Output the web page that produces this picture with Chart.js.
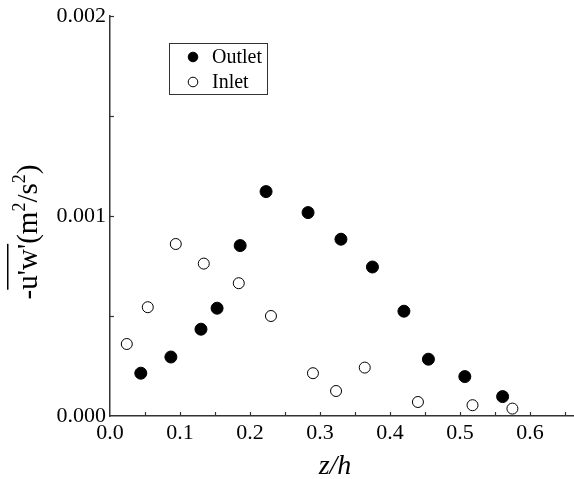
<!DOCTYPE html>
<html>
<head>
<meta charset="utf-8">
<script src="https://cdn.jsdelivr.net/npm/chart.js@4.4.1/dist/chart.umd.min.js"></script>
<style>
  body { margin: 0; background: #fff; }
  #wrap { width: 574px; height: 479px; position: relative; }
</style>
</head>
<body>
<div id="wrap"><canvas id="chart"></canvas></div>
<script>
// z/h and -u'w' values
var outletZ = [0.044, 0.087, 0.130, 0.153, 0.186, 0.223, 0.283, 0.330, 0.375, 0.420, 0.455, 0.507, 0.561];
var outletUW = [0.000214, 0.000295, 0.000434, 0.000539, 0.000852, 0.001122, 0.001017, 0.000884, 0.000745, 0.000524, 0.000284, 0.000197, 0.000097];
var inletZ = [0.024, 0.054, 0.094, 0.134, 0.184, 0.230, 0.290, 0.323, 0.364, 0.440, 0.518, 0.575];
var inletUW = [0.000360, 0.000544, 0.000860, 0.000762, 0.000664, 0.000500, 0.000214, 0.000125, 0.000242, 0.000070, 0.000054, 0.000037];
var xTickLabels = ["0.0", "0.1", "0.2", "0.3", "0.4", "0.5", "0.6"];
var yTickLabels = ["0.000", "0.001", "0.002"];

var FONT = "Liberation Serif";

function toPoints(xs, ys) {
    var pts = [];
    for (var i = 0; i < xs.length; i++) {
        pts.push({ x: xs[i], y: ys[i] });
    }
    return pts;
}

// inward tick marks on the left and bottom axes
var inwardTicks = {
    id: 'inwardTicks',
    afterDraw: function (chart) {
        var ctx = chart.ctx;
        var xs = chart.scales.x, ys = chart.scales.y;
        ctx.save();
        ctx.strokeStyle = '#333';
        ctx.lineWidth = 1.2;
        xs.ticks.forEach(function (t) {
            var px = Math.round(xs.getPixelForValue(t.value)) + 0.5;
            if (px <= xs.left + 1) return;
            ctx.beginPath();
            ctx.moveTo(px, ys.bottom);
            ctx.lineTo(px, ys.bottom - 4);
            ctx.stroke();
        });
        ys.ticks.forEach(function (t) {
            var py = Math.round(ys.getPixelForValue(t.value)) + 0.5;
            if (py >= ys.bottom - 1) return;
            ctx.beginPath();
            ctx.moveTo(xs.left, py);
            ctx.lineTo(xs.left + 4, py);
            ctx.stroke();
        });
        ctx.restore();
    }
};

// axis titles and the boxed legend
var decorations = {
    id: 'decorations',
    afterDraw: function (chart) {
        var ctx = chart.ctx;
        ctx.save();
        ctx.fillStyle = '#000';

        // x title
        ctx.font = 'italic 28px "' + FONT + '"';
        ctx.textAlign = 'center';
        ctx.textBaseline = 'alphabetic';
        ctx.fillText('z/h', 335, 474);

        // y title, rotated
        var big = '29px "' + FONT + '"';
        var small = '18px "' + FONT + '"';
        var parts = [
            { t: '-', f: big, dy: 0 },
            { t: "u'w'", f: big, dy: 0, over: true },
            { t: '(m', f: big, dy: 0 },
            { t: '2', f: small, dy: -12 },
            { t: '/s', f: big, dy: 0 },
            { t: '2', f: small, dy: -12 },
            { t: ')', f: big, dy: 0 }
        ];
        var total = 0;
        parts.forEach(function (p) { ctx.font = p.f; p.w = ctx.measureText(p.t).width; total += p.w; });
        ctx.translate(37, 232 + total / 2);
        ctx.rotate(-Math.PI / 2);
        ctx.textAlign = 'left';
        var cx = 0;
        parts.forEach(function (p) {
            ctx.font = p.f;
            ctx.fillText(p.t, cx, p.dy);
            if (p.over) {
                ctx.fillRect(cx, -30, p.w, 1.5);
            }
            cx += p.w;
        });
        ctx.restore();

        // legend
        ctx.save();
        ctx.strokeStyle = '#333';
        ctx.lineWidth = 1;
        ctx.strokeRect(169.5, 43.5, 98, 51);
        ctx.font = '20px "' + FONT + '"';
        ctx.textBaseline = 'middle';
        ctx.textAlign = 'left';
        chart.data.datasets.forEach(function (ds, i) {
            var cy = 57 + i * 25;
            ctx.beginPath();
            ctx.arc(193, cy, 4.8, 0, Math.PI * 2);
            ctx.fillStyle = ds.backgroundColor;
            ctx.fill();
            ctx.strokeStyle = '#000';
            ctx.lineWidth = 1;
            ctx.stroke();
            ctx.fillStyle = '#000';
            ctx.fillText(ds.label, 212, cy + 1);
        });
        ctx.restore();
    }
};

new Chart(document.getElementById('chart'), {
    type: 'scatter',
    data: {
        datasets: [
            {
                label: 'Outlet',
                data: toPoints(outletZ, outletUW),
                backgroundColor: '#000',
                borderColor: '#000',
                borderWidth: 1,
                pointRadius: 6,
                pointHoverRadius: 6
            },
            {
                label: 'Inlet',
                data: toPoints(inletZ, inletUW),
                backgroundColor: '#fff',
                borderColor: '#000',
                borderWidth: 1,
                pointRadius: 5.5,
                pointHoverRadius: 5.5
            }
        ]
    },
    options: {
        responsive: true,
        maintainAspectRatio: false,
        animation: false,
        layout: { autoPadding: false, padding: { top: 16, right: 0, left: 0, bottom: 0 } },
        plugins: {
            legend: { display: false },
            tooltip: { enabled: false }
        },
        scales: {
            x: {
                type: 'linear',
                min: 0,
                max: 0.663,
                afterFit: function (scale) {
                    scale.height = 63;
                    scale.paddingRight = 0;
                    scale.paddingLeft = 0;
                },
                afterBuildTicks: function (scale) {
                    var t = [];
                    for (var i = 0; i <= 13; i++) t.push({ value: i * 0.05 });
                    scale.ticks = t;
                },
                ticks: {
                    color: '#000',
                    padding: 4,
                    maxRotation: 0,
                    autoSkip: false,
                    font: { family: FONT, size: 22 },
                    callback: function (v) {
                        var k = Math.round(v * 20);
                        return k % 2 === 0 ? xTickLabels[k / 2] : '';
                    }
                },
                grid: { display: false, drawTicks: false },
                border: { display: true, color: '#333', width: 1.5 }
            },
            y: {
                type: 'linear',
                min: 0,
                max: 0.002,
                afterFit: function (scale) {
                    scale.width = 110;
                    scale.paddingTop = 0;
                    scale.paddingBottom = 0;
                },
                afterBuildTicks: function (scale) {
                    var t = [];
                    for (var i = 0; i <= 4; i++) t.push({ value: i * 0.0005 });
                    scale.ticks = t;
                },
                ticks: {
                    color: '#000',
                    padding: 4,
                    autoSkip: false,
                    font: { family: FONT, size: 22 },
                    callback: function (v) {
                        var k = Math.round(v / 0.0005);
                        return k % 2 === 0 ? yTickLabels[k / 2] : '';
                    }
                },
                grid: { display: false, drawTicks: false },
                border: { display: true, color: '#333', width: 1.5 }
            }
        }
    },
    plugins: [inwardTicks, decorations]
});
</script>
</body>
</html>
